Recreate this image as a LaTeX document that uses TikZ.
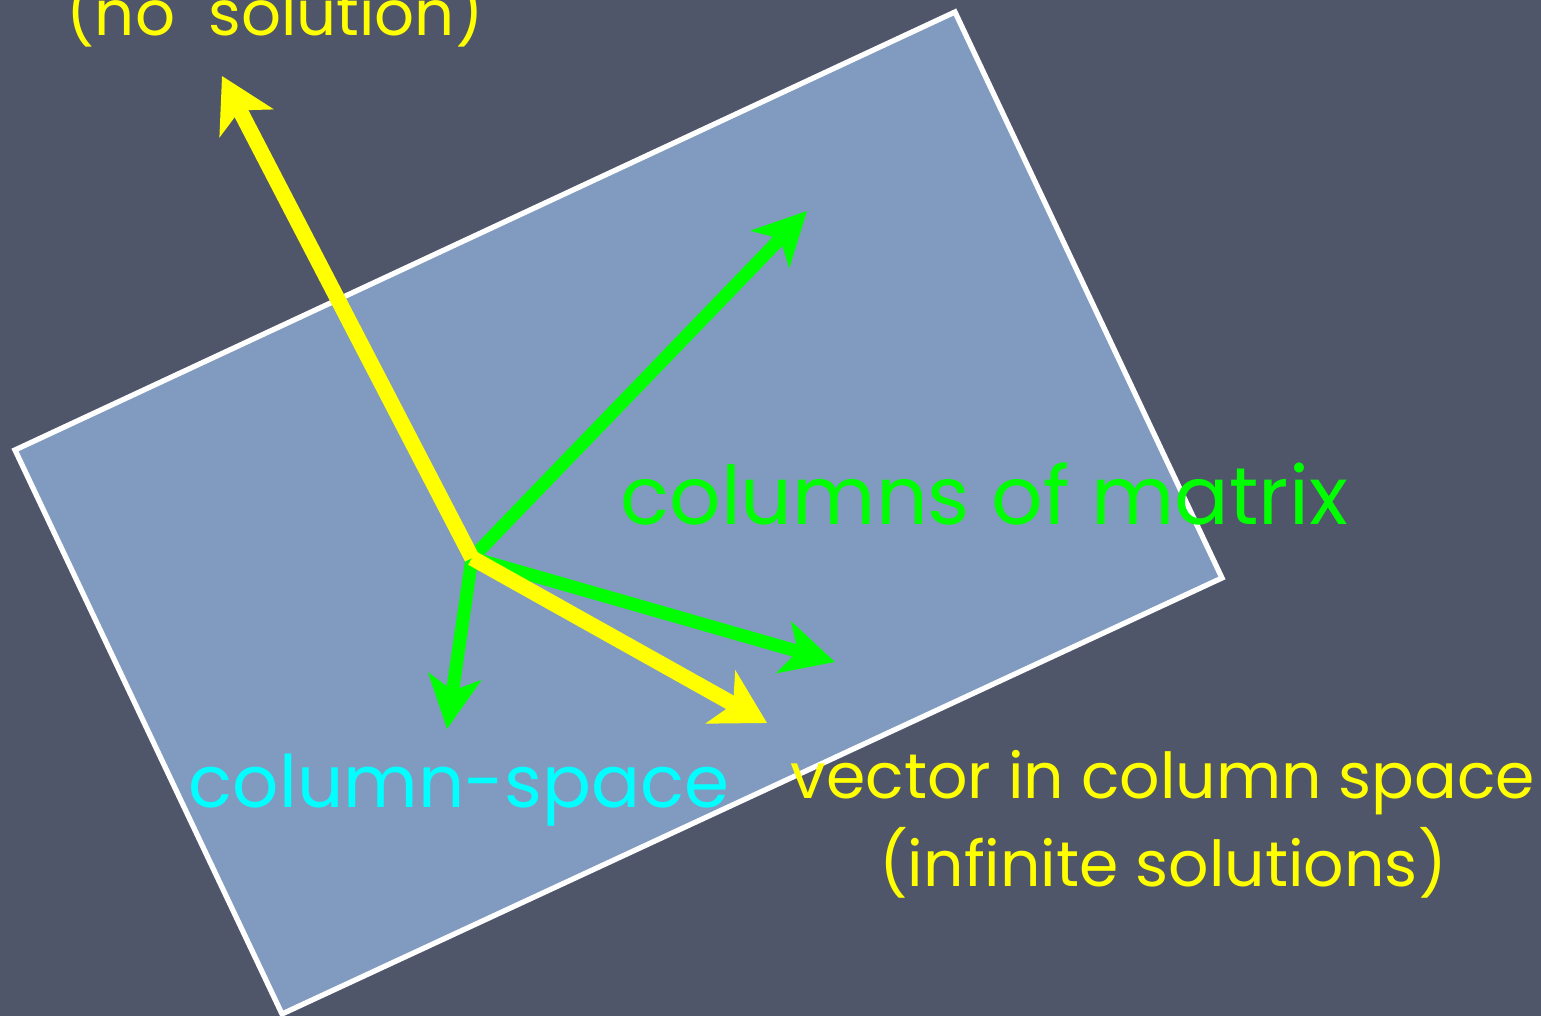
\documentclass[tikz,border=0pt]{standalone}
\usepackage{fontspec}
\setmainfont{Poppins}
\usepackage{tikz}
\usetikzlibrary{arrows.meta}
\definecolor{board}{HTML}{50566A}
\definecolor{plane}{HTML}{819BC0}
\definecolor{vyellow}{HTML}{FFFF00}
\definecolor{vgreen}{HTML}{00FF00}
\definecolor{vcyan}{HTML}{00FFFF}
\tikzset{
  colvec/.style={vgreen, line width=3.7pt, -{Stealth[length=15pt, width=15pt, inset=4pt]}},
  rhsvec/.style={vyellow, line width=4.4pt, -{Stealth[length=15pt, width=17pt, inset=4pt]}},
  lbl/.style={inner sep=0pt, anchor=base}
}
\begin{document}
\begin{tikzpicture}[x=0.01cm, y=-0.01cm]
  \fill[board] (0,0) rectangle (1541,1016);
  \useasboundingbox (0,0) rectangle (1541,1016);
  % the plane spanned by the columns
  \draw[white, line width=1.5pt, fill=plane] (15,450) -- (955,12) -- (1222,578) -- (282,1014) -- cycle;
  \coordinate (o) at (472,558);
  \coordinate (b1) at (222,76);
  \coordinate (b2) at (767,723);
  \coordinate (c1) at (807,211);
  \coordinate (c2) at (835,662);
  \coordinate (c3) at (447,729);
  \draw[colvec] (o) -- (c1);
  \draw[colvec] (o) -- (c2);
  \draw[colvec] (o) -- (c3);
  \draw[rhsvec] (o) -- (b1);
  \draw[rhsvec] (o) -- (b2);
  \node[lbl, vyellow, font=\fontsize{17.8}{21}\selectfont] (nosol) at (275,36) {(no\ \ solution)};
  \node[lbl, vgreen, font=\fontsize{23}{27}\selectfont] (cols) at (984,525) {columns of matrix};
  \node[lbl, vcyan, font=\fontsize{20.6}{24}\selectfont] (colsp) at (459,808) {column-space};
  \node[lbl, vyellow, font=\fontsize{18}{25.3}\selectfont, align=center] (invec) at (1163,887) {vector in column space\\(infinite solutions)};
\end{tikzpicture}
\end{document}
